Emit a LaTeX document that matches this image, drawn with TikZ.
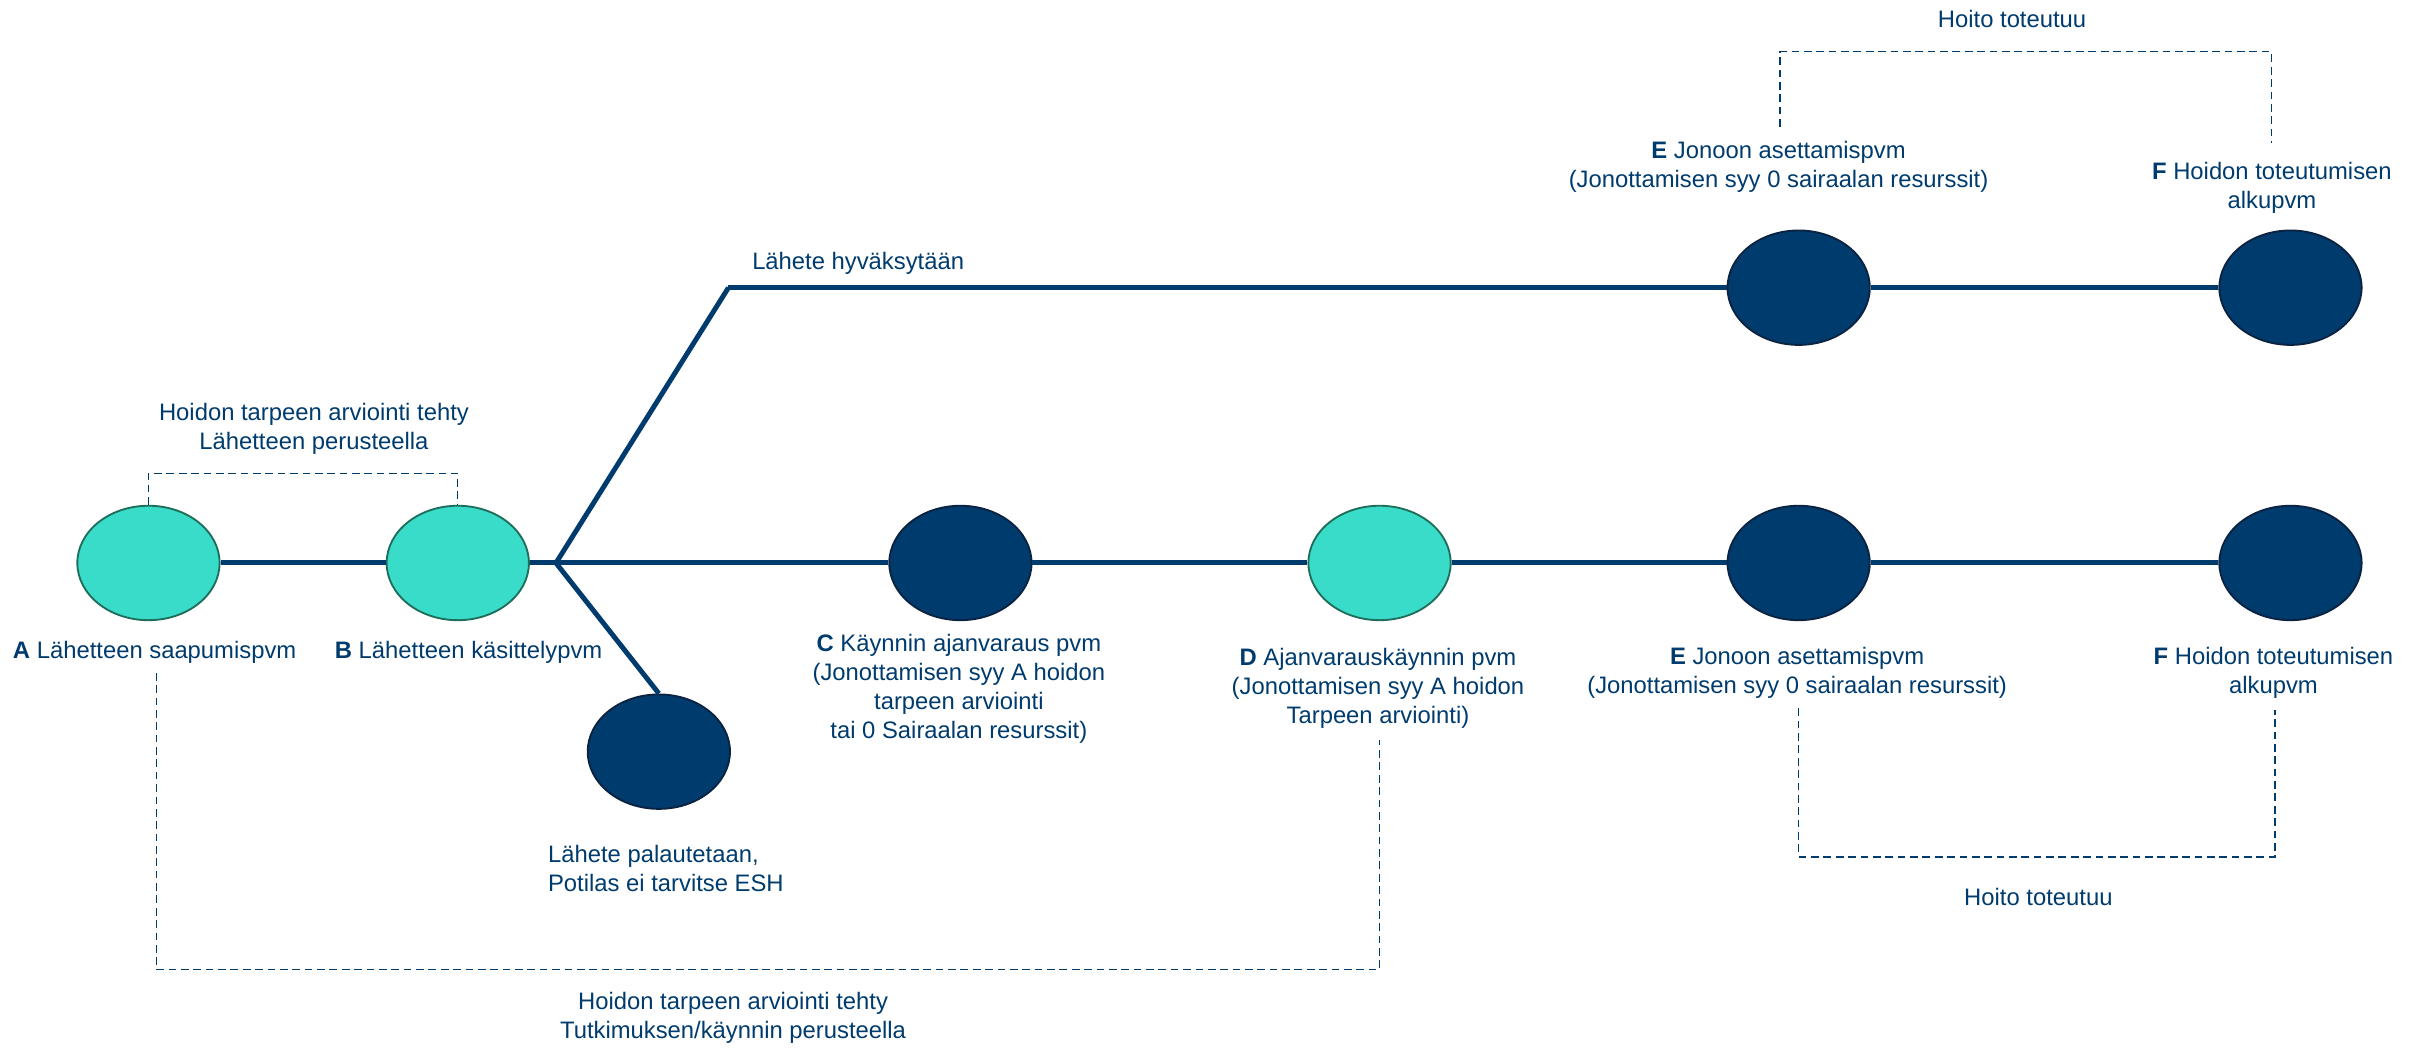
\documentclass[tikz,border=0pt]{standalone}
\usepackage{fontspec}
\setmainfont{Liberation Sans}
\usetikzlibrary{shapes.geometric,positioning,calc}

\definecolor{navy}{HTML}{003B6E}
\definecolor{navyedge}{HTML}{0B2340}
\definecolor{mint}{HTML}{38DCC8}
\definecolor{mintedge}{HTML}{1F6E5C}

\tikzstyle{every node}+=[inner sep=0pt,text=navy,font=\fontsize{7.7}{9.35}\selectfont]
\tikzstyle{pvmdot}=[ellipse,minimum width=46pt,minimum height=37pt,line width=0.6pt]
\tikzstyle{mintdot}=[pvmdot,fill=mint,draw=mintedge]
\tikzstyle{navydot}=[pvmdot,fill=navy,draw=navyedge]
\tikzstyle{track}=[navy,line width=1.6pt]
\tikzstyle{bracket}=[navy,line width=0.45pt,dash pattern=on 2.5pt off 1.5pt]
\tikzstyle{lbl}=[align=center]

\begin{document}
\begin{tikzpicture}[x=0.5pt,y=-0.5pt]
\useasboundingbox (0,0) rectangle (1568,677);

% lower track
\node[mintdot] (a) at (96,364) {};
\node[mintdot] (b) at (296,364) {};
\coordinate (j) at (359.5,364);
\node[navydot] (c) at (621,364) {};
\node[mintdot] (d) at (892,364) {};
\node[navydot] (e) at (1163,364) {};
\node[navydot] (f) at (1481,364) {};

% returned referral
\node[navydot] (r) at (426,486) {};

% accepted referral
\coordinate (k) at (471,186);
\node[navydot] (e2) at (1163,186) {};
\node[navydot] (f2) at (1481,186) {};

\draw[track] (a) -- (b) -- (j) -- (c) -- (d) -- (e) -- (f);
\draw[track] (k) -- (j) -- (r.north);
\draw[track] (k) -- (e2) -- (f2);

% labels
\node[lbl] (la) at (100,421.6) {\textbf{A} Lähetteen saapumispvm};
\node[lbl] (lb) at (303,421.6) {\textbf{B} Lähetteen käsittelypvm};
\node[lbl] (lc) at (620,445.5) {\textbf{C} Käynnin ajanvaraus pvm\\(Jonottamisen syy A hoidon\\tarpeen arviointi\\tai 0 Sairaalan resurssit)};
\node[lbl] (ld) at (891,445.2) {\textbf{D} Ajanvarauskäynnin pvm\\(Jonottamisen syy A hoidon\\Tarpeen arviointi)};
\node[lbl] (le) at (1162,434.8) {\textbf{E} Jonoon asettamispvm\\(Jonottamisen syy 0 sairaalan resurssit)};
\node[lbl] (lf) at (1470,434.8) {\textbf{F} Hoidon toteutumisen\\alkupvm};
\node[lbl] (le2) at (1150,108) {\textbf{E} Jonoon asettamispvm\\(Jonottamisen syy 0 sairaalan resurssit)};
\node[lbl] (lf2) at (1469,121.3) {\textbf{F} Hoidon toteutumisen\\alkupvm};
\node[anchor=west,align=left] (lr) at (354,561.5) {Lähete palautetaan,\\Potilas ei tarvitse ESH};
\node[anchor=west] (lok) at (486,170) {Lähete hyväksytään};

% brackets
\node[lbl] (hab) at (203,277.5) {Hoidon tarpeen arviointi tehty\\Lähetteen perusteella};
\coordinate (abT) at (196,306);
\draw[bracket] (a.north) |- (abT) -| (b.north);

\node[lbl] (had) at (474,658.4) {Hoidon tarpeen arviointi tehty\\Tutkimuksen/käynnin perusteella};
\coordinate (adL) at (101,435);
\coordinate (adB) at (496,627);
\coordinate (adR) at (892,478.5);
\draw[bracket] (adL) |- (adB) -| (adR);

\node (hef) at (1318,580) {Hoito toteutuu};
\coordinate (efL) at (1163,458);
\coordinate (efB) at (1317,554);
\coordinate (efR) at (1471,459);
\draw[bracket] (efL) |- (efB) -| (efR);

\node (hef2) at (1301,12) {Hoito toteutuu};
\coordinate (ef2L) at (1151,82);
\coordinate (ef2T) at (1310,33.4);
\coordinate (ef2R) at (1468.6,92.7);
\draw[bracket] (ef2L) |- (ef2T) -| (ef2R);
\end{tikzpicture}
\end{document}
